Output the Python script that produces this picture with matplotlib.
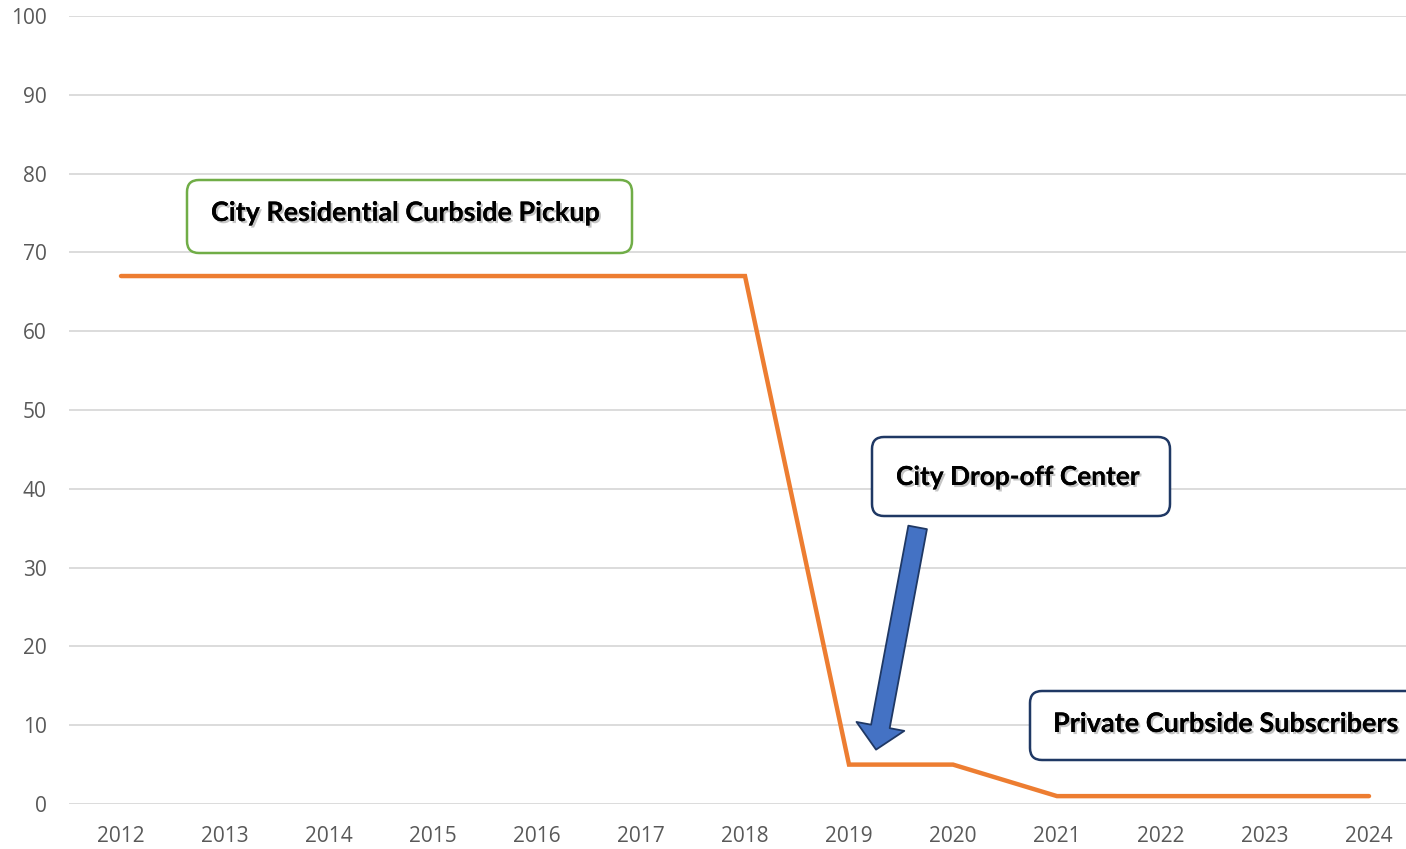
import matplotlib
matplotlib.use("Agg")
import matplotlib.pyplot as plt
from matplotlib.patches import FancyBboxPatch
from matplotlib.transforms import Affine2D
import matplotlib.patheffects as pe

years = [2012, 2013, 2014, 2015, 2016, 2017, 2018, 2019, 2020, 2021, 2022, 2023, 2024]
values = [67, 67, 67, 67, 67, 67, 67, 5, 5, 1, 1, 1, 1]
y_ticks = [0, 10, 20, 30, 40, 50, 60, 70, 80, 90, 100]
labels = ["City Residential Curbside Pickup", "City Drop-off Center", "Private Curbside Subscribers"]

W, H = 1406, 849
fig = plt.figure(figsize=(W / 100, H / 100), dpi=100)
plt.rcParams['font.family'] = ['Open Sans', 'DejaVu Sans']

left, right, top, bottom = 69, 1406, 16, 804
ax = fig.add_axes([left / W, 1 - bottom / H, (right - left) / W, (bottom - top) / H])

x = list(range(len(years)))
ax.plot(x, values, color='#ED7D31', lw=3.2, solid_capstyle='round', solid_joinstyle='miter', zorder=3)
ax.set_xlim(-0.5, -0.5 + (right - left) / 104.0)
ax.set_ylim(0, 100)
ax.set_yticks(y_ticks)
ax.set_xticks(x)
ax.set_xticklabels([str(y) for y in years])
ax.grid(axis='y', color='#D9D9D9', lw=1.3)
ax.set_axisbelow(True)
for s in ax.spines.values():
    s.set_visible(False)
ax.tick_params(length=0, labelsize=15, labelcolor='#595959')
ax.tick_params(axis='x', pad=16)
ax.tick_params(axis='y', pad=16)

def box(x0, y0, x1, y1, ec):
    p = FancyBboxPatch((x0, H - y1), x1 - x0, y1 - y0,
                       boxstyle="round,pad=0,rounding_size=12",
                       fc='white', ec=ec, lw=1.8, transform=None, zorder=5)
    fig.patches.append(p)

box(187, 180, 632, 253, '#70AD47')
box(872, 437, 1170, 516, '#1F3864')
box(1030, 691, 1430, 760, '#1F3864')

shadow = [pe.withSimplePatchShadow(offset=(1.5, -1.5), shadow_rgbFace='#7F7F7F', alpha=0.45), pe.Normal()]
fig.canvas.draw()
renderer = fig.canvas.get_renderer()

def label(txt, x0, yc, target_w):
    t = fig.text(x0 / W, 1 - yc / H, txt, ha='left', va='center', fontsize=18,
                 fontweight='bold', color='black', family=['Lato', 'DejaVu Sans'], zorder=6,
                 path_effects=shadow)
    w = t.get_window_extent(renderer).width
    t.set_fontsize(18 * target_w / w)
    return t

label(labels[0], 211, 213, 390)
label(labels[1], 896, 477, 244)
label(labels[2], 1053, 724, 346)

ax.annotate('', xy=(7.26, 6.9), xytext=(7.66, 35.1),
            arrowprops=dict(arrowstyle='simple,head_length=0.85,head_width=1.75,tail_width=0.68',
                            fc='#4472C4', ec='#1F3864', lw=1.3, shrinkA=0, shrinkB=0,
                            mutation_scale=20), zorder=7)

fig.savefig('out.png', dpi=100)
